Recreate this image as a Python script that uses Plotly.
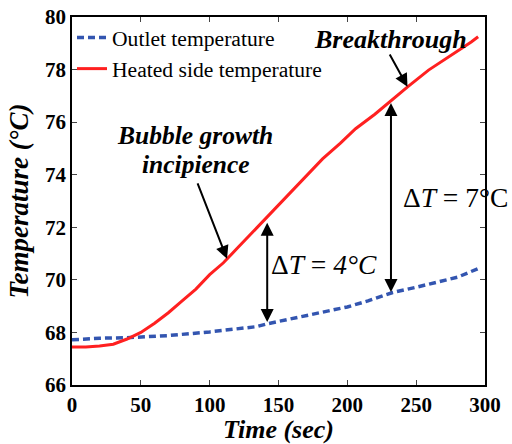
import plotly.graph_objects as go

# Heated side temperature (red)
t_heated = [0, 10, 20, 30, 40, 50, 60, 70, 80, 90, 100, 110, 120, 130, 140, 150,
            160, 170, 182, 195, 206, 220, 232, 244, 259, 270, 280, 290, 295]
T_heated = [67.45, 67.45, 67.48, 67.55, 67.75, 68.0, 68.35, 68.75, 69.2, 69.65, 70.2,
            70.65, 71.2, 71.75, 72.3, 72.85, 73.4, 73.95, 74.6, 75.2, 75.75, 76.3,
            76.84, 77.35, 77.98, 78.35, 78.7, 79.05, 79.25]

# Outlet temperature (blue dashed)
t_outlet = [0, 20, 40, 50, 70, 100, 120, 134, 142, 155, 170, 185, 200, 215, 233,
            250, 265, 280, 295]
T_outlet = [67.72, 67.78, 67.8, 67.82, 67.88, 68.02, 68.12, 68.22, 68.33, 68.48,
            68.63, 68.8, 68.97, 69.2, 69.52, 69.72, 69.9, 70.1, 70.43]

x_ticks = [0, 50, 100, 150, 200, 250, 300]
y_ticks = [66, 68, 70, 72, 74, 76, 78, 80]

FONT = "Liberation Serif"

fig = go.Figure()
fig.add_trace(go.Scatter(x=t_outlet, y=T_outlet, mode="lines",
                         name="Outlet temperature",
                         line=dict(color="#3355b0", width=3.5, dash="7px,4px")))
fig.add_trace(go.Scatter(x=t_heated, y=T_heated, mode="lines",
                         name="Heated side temperature",
                         line=dict(color="#ff2020", width=3)))

ann = []
def arrow(x, y, ax, ay, both=False):
    ann.append(dict(x=x, y=y, ax=ax, ay=ay, xref="x", yref="y", axref="x", ayref="y",
                    showarrow=True, arrowhead=2, arrowsize=1.3, arrowwidth=2,
                    arrowcolor="black", standoff=0, startstandoff=0, text="",
                    arrowside="end+start" if both else "end", startarrowhead=2,
                    startarrowsize=1.3))

arrow(112.6, 70.8, 90.8, 73.73)
arrow(243.7, 77.35, 230.2, 78.63)
arrow(141.8, 72.17, 141.8, 68.34, both=True)
arrow(231.7, 76.73, 231.7, 69.48, both=True)

def text(x, y, s, size=25):
    ann.append(dict(x=x, y=y, xref="x", yref="y", text=s, showarrow=False,
                    font=dict(family=FONT, size=size, color="black")))

text(89.3, 75.51, "<b><i>Bubble growth</i></b>", 25.5)
text(90.0, 74.37, "<b><i>incipience</i></b>", 25.5)
text(231.7, 79.13, "<b><i>Breakthrough</i></b>", 26)
text(278.9, 73.12, "Δ<i>T</i> = 7°C", 27.5)
text(183.4, 70.57, "Δ<i>T</i> = <i>4°C</i>", 27.5)

fig.update_layout(
    width=512, height=444,
    margin=dict(l=72, r=27, t=17, b=59),
    paper_bgcolor="white", plot_bgcolor="white",
    font=dict(family=FONT, color="black"),
    showlegend=True,
    legend=dict(x=0.0, y=1.0, xanchor="left", yanchor="top",
                bgcolor="rgba(0,0,0,0)", font=dict(family=FONT, size=21.6),
                tracegroupgap=0, itemwidth=30),
    annotations=ann,
    xaxis=dict(range=[0, 300], tickvals=x_ticks, ticks="inside", ticklen=5,
               showline=True, linecolor="black", linewidth=1.5, mirror="ticks",
               showgrid=False, zeroline=False, automargin=False,
               tickfont=dict(family=FONT, size=21, color="black", weight="bold"),
               title=dict(text="<b><i>Time (sec)</i></b>", standoff=3,
                          font=dict(family=FONT, size=26))),
    yaxis=dict(range=[66, 80], tickvals=y_ticks, ticks="inside", ticklen=5,
               showline=True, linecolor="black", linewidth=1.5, mirror="ticks",
               showgrid=False, zeroline=False, automargin=False,
               tickfont=dict(family=FONT, size=21, color="black", weight="bold"),
               title=dict(text="<b><i>Temperature (°C)</i></b>", standoff=9,
                          font=dict(family=FONT, size=27))),
)

fig.write_html("out.html", config={"displayModeBar": False},
               post_script="document.body.style.margin='0px';document.body.style.overflow='hidden';")
